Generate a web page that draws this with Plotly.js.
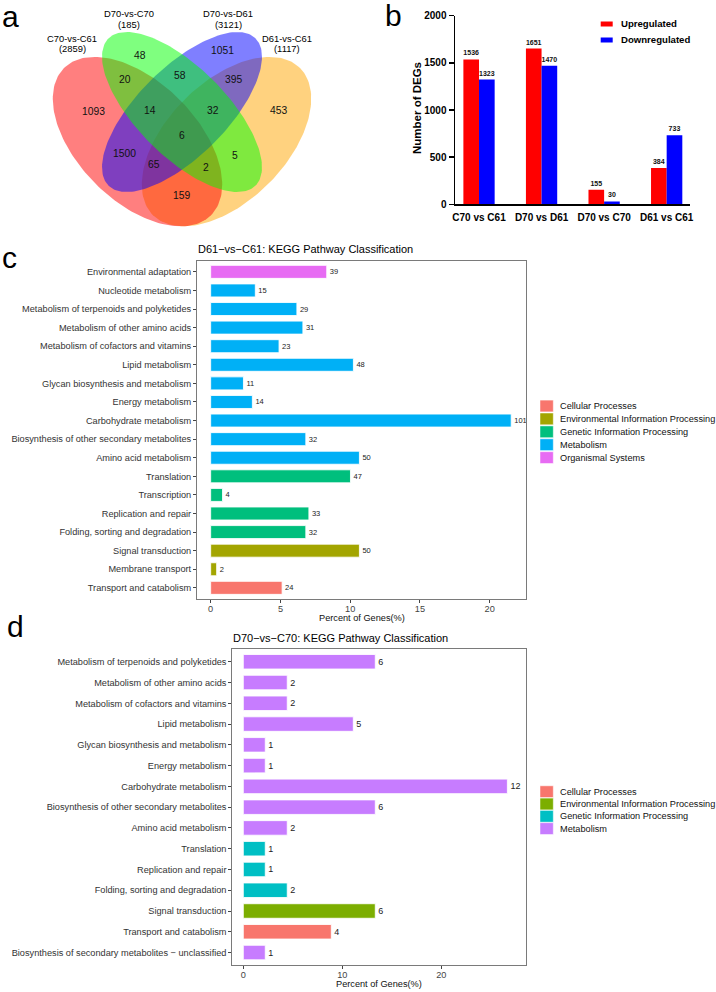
<!DOCTYPE html>
<html>
<head>
<meta charset="utf-8">
<script src="https://cdn.plot.ly/plotly-3.0.1.min.js"></script>
<style>html,body{margin:0;padding:0;background:#fff}</style>
</head>
<body>
<div id="fig" style="width:716px;height:992px"></div>
<script>
// ---- a: venn ----
const vennSets = ['C70-vs-C61', 'D70-vs-C70', 'D70-vs-D61', 'D61-vs-C61'];
const vennTotals = [2859, 185, 3121, 1117];
const vennCounts = [1093, 48, 20, 14, 58, 1051, 395, 32, 453, 6, 1500, 65, 2, 5, 159];

// ---- b: DEG numbers ----
const degGroups = ['C70 vs C61', 'D70 vs D61', 'D70 vs C70', 'D61 vs C61'];
const upReg = [1536, 1651, 155, 384];
const downReg = [1323, 1470, 30, 733];

// ---- c: D61-vs-C61 KEGG ----
const cTerms = ['Environmental adaptation', 'Nucleotide metabolism', 'Metabolism of terpenoids and polyketides',
  'Metabolism of other amino acids', 'Metabolism of cofactors and vitamins', 'Lipid metabolism',
  'Glycan biosynthesis and metabolism', 'Energy metabolism', 'Carbohydrate metabolism',
  'Biosynthesis of other secondary metabolites', 'Amino acid metabolism', 'Translation', 'Transcription',
  'Replication and repair', 'Folding, sorting and degradation', 'Signal transduction', 'Membrane transport',
  'Transport and catabolism'];
const cClass = ['Organismal Systems', 'Metabolism', 'Metabolism', 'Metabolism', 'Metabolism', 'Metabolism',
  'Metabolism', 'Metabolism', 'Metabolism', 'Metabolism', 'Metabolism',
  'Genetic Information Processing', 'Genetic Information Processing', 'Genetic Information Processing',
  'Genetic Information Processing', 'Environmental Information Processing', 'Environmental Information Processing',
  'Cellular Processes'];
const cGenes = [39, 15, 29, 31, 23, 48, 11, 14, 101, 32, 50, 47, 4, 33, 32, 50, 2, 24];
const cPercent = [8.32, 3.20, 6.18, 6.61, 4.90, 10.23, 2.35, 2.99, 21.54, 6.82, 10.66, 10.02, 0.85, 7.04, 6.82, 10.66, 0.43, 5.12];
const cClasses = ['Cellular Processes', 'Environmental Information Processing', 'Genetic Information Processing',
  'Metabolism', 'Organismal Systems'];
const cColors = ['#F8766D', '#A3A500', '#00BF7D', '#00B0F6', '#E76BF3'];

// ---- d: D70-vs-C70 KEGG ----
const dTerms = ['Metabolism of terpenoids and polyketides', 'Metabolism of other amino acids',
  'Metabolism of cofactors and vitamins', 'Lipid metabolism', 'Glycan biosynthesis and metabolism',
  'Energy metabolism', 'Carbohydrate metabolism', 'Biosynthesis of other secondary metabolites',
  'Amino acid metabolism', 'Translation', 'Replication and repair', 'Folding, sorting and degradation',
  'Signal transduction', 'Transport and catabolism', 'Biosynthesis of secondary metabolites \u2212 unclassified'];
const dClass = ['Metabolism', 'Metabolism', 'Metabolism', 'Metabolism', 'Metabolism', 'Metabolism', 'Metabolism',
  'Metabolism', 'Metabolism', 'Genetic Information Processing', 'Genetic Information Processing',
  'Genetic Information Processing', 'Environmental Information Processing', 'Cellular Processes', 'Metabolism'];
const dGenes = [6, 2, 2, 5, 1, 1, 12, 6, 2, 1, 1, 2, 6, 4, 1];
const dPercent = [13.33, 4.44, 4.44, 11.11, 2.22, 2.22, 26.67, 13.33, 4.44, 2.22, 2.22, 4.44, 13.33, 8.89, 2.22];
const dClasses = ['Cellular Processes', 'Environmental Information Processing', 'Genetic Information Processing', 'Metabolism'];
const dColors = ['#F8766D', '#7CAE00', '#00BFC4', '#C77CFF'];

const W = 716, H = 992;
const FONT = 'Liberation Sans, Arial, sans-serif';
function px(x) { return x / W; }
function py(y) { return 1 - y / H; }

let traces = [];
let shapes = [];
let annotations = [];

// text helper, always centred unless told otherwise
function note(o) {
  annotations.push(Object.assign({ xref: 'paper', yref: 'paper', showarrow: false, xanchor: 'center', yanchor: 'middle' }, o));
}

// venn ellipses, pixel space of panel a
const ellipses = [
  { cx: 137.5, cy: 141.6, a: 104, b: 59.5, ang: 45, color: 'rgba(255,0,0,0.5)' },
  { cx: 182, cy: 112, a: 104, b: 44.5, ang: 45, color: 'rgba(0,255,0,0.5)' },
  { cx: 182, cy: 112, a: 104, b: 44.5, ang: -45, color: 'rgba(0,0,255,0.5)' },
  { cx: 226.5, cy: 141.6, a: 104, b: 59.5, ang: -45, color: 'rgba(255,165,0,0.5)' }
];
const drawOrder = [3, 0, 2, 1];
drawOrder.forEach(k => {
  let e = ellipses[k];
  let th = e.ang * Math.PI / 180;
  let xs = [], ys = [];
  for (let i = 0; i <= 180; i++) {
    let t = 2 * Math.PI * i / 180;
    xs.push(e.cx + e.a * Math.cos(t) * Math.cos(th) - e.b * Math.sin(t) * Math.sin(th));
    ys.push(e.cy + e.a * Math.cos(t) * Math.sin(th) + e.b * Math.sin(t) * Math.cos(th));
  }
  traces.push({
    type: 'scatter', mode: 'lines', x: xs, y: ys, fill: 'toself', fillcolor: e.color,
    line: { width: 0 }, hoverinfo: 'skip', xaxis: 'x4', yaxis: 'y4', showlegend: false
  });
});

const vennPos = [[93.3, 111], [140, 55], [125, 79], [150, 110], [180, 75.7], [222.7, 50.7], [233.3, 79],
  [212.7, 110.7], [278.3, 110], [182.3, 135], [124, 153.3], [154.3, 164.3], [205.7, 167.3], [235, 155.7], [181.7, 195.7]];
vennCounts.forEach((v, i) => {
  note({ xref: 'x4', yref: 'y4', x: vennPos[i][0], y: vennPos[i][1], text: String(v),
    font: { family: FONT, size: 10.3, color: '#111' } });
});
const setPos = [[72, 38, 48], [129, 13, 24], [228, 13, 24], [287, 38, 48]];
vennSets.forEach((s, i) => {
  note({ xref: 'x4', yref: 'y4', x: setPos[i][0], y: setPos[i][1], text: s, font: { family: FONT, size: 9.4, color: '#000' } });
  note({ xref: 'x4', yref: 'y4', x: setPos[i][0], y: setPos[i][2], text: '(' + vennTotals[i] + ')',
    font: { family: FONT, size: 9.4, color: '#000' } });
});

// panel b bars
traces.push({
  type: 'bar', x: degGroups, y: upReg, xaxis: 'x', yaxis: 'y', marker: { color: '#FF0000' },
  width: 0.25, offset: -0.25, text: upReg.map(String), textposition: 'outside', constraintext: 'none',
  textfont: { family: FONT, size: 7, weight: 'bold', color: '#111' }, cliponaxis: false, showlegend: false
});
traces.push({
  type: 'bar', x: degGroups, y: downReg, xaxis: 'x', yaxis: 'y', marker: { color: '#0000FF' },
  width: 0.25, offset: 0, text: downReg.map(String), textposition: 'outside', constraintext: 'none',
  textfont: { family: FONT, size: 7, weight: 'bold', color: '#111' }, cliponaxis: false, showlegend: false
});
const legB = [['Upregulated', '#FF0000', 24], ['Downregulated', '#0000FF', 40]];
legB.forEach(l => {
  shapes.push({ type: 'rect', xref: 'paper', yref: 'paper', x0: px(600.7), x1: px(612.7),
    y0: py(l[2] - 2.5), y1: py(l[2] + 2.5), fillcolor: l[1], line: { width: 0 } });
  note({ x: px(619), y: py(l[2]), xanchor: 'left', text: l[0], font: { family: FONT, size: 9.6, weight: 'bold', color: '#000' } });
});
note({ x: px(417.2), y: py(107.8), text: 'Number of DEGs', textangle: -90,
  font: { family: FONT, size: 11.5, weight: 'bold', color: '#000' } });

// panels c and d
function keggPanel(terms, cls, genes, pct, classes, colors, xa, ya, labSize) {
  classes.forEach((c, k) => {
    let idx = [];
    cls.forEach((v, i) => { if (v === c) idx.push(i); });
    traces.push({
      type: 'bar', orientation: 'h', xaxis: xa, yaxis: ya,
      y: idx.map(i => terms[i]), x: idx.map(i => pct[i]), text: idx.map(i => String(genes[i])),
      width: 0.7, offset: -0.35, marker: { color: colors[k], line: { color: 'rgba(255,255,255,0.85)', width: 1 } },
      textposition: 'outside', constraintext: 'none', textangle: 0, cliponaxis: false,
      textfont: { family: FONT, size: labSize, color: '#222' }, showlegend: false
    });
  });
}
keggPanel(cTerms, cClass, cGenes, cPercent, cClasses, cColors, 'x2', 'y2', 7.5);
keggPanel(dTerms, dClass, dGenes, dPercent, dClasses, dColors, 'x3', 'y3', 9);

function keggLegend(classes, colors, y0, step) {
  classes.forEach((c, k) => {
    let yc = y0 + step * k;
    shapes.push({ type: 'rect', xref: 'paper', yref: 'paper', x0: px(540), x1: px(553.3),
      y0: py(yc - 5.9), y1: py(yc + 5.9), fillcolor: colors[k], line: { color: '#fff', width: 0.5 } });
    note({ x: px(557.5), y: py(yc), xanchor: 'left', text: c, font: { family: FONT, size: 9.2, color: '#111' } });
  });
}
keggLegend(cClasses, cColors, 406, 12.9);
keggLegend(dClasses, dColors, 791.7, 12.3);

const titles = [
  ['D61\u2212vs\u2212C61: KEGG Pathway Classification', 195.5, 248.5],
  ['D70\u2212vs\u2212C70: KEGG Pathway Classification', 231, 638.3]
];
titles.forEach(t => note({ x: px(t[1]), y: py(t[2]), xanchor: 'left', text: t[0], font: { family: FONT, size: 11, color: '#000' } }));
[[361.5, 618.3], [378.8, 984.3]].forEach(p => note({ x: px(p[0]), y: py(p[1]),
  text: 'Percent of Genes(%)', font: { family: FONT, size: 9.2, color: '#111' } }));

// panel letters
[['a', 0, 17], ['b', 383, 16], ['c', 0, 257.5], ['d', 5, 626.5]].forEach(l => note({
  x: px(l[1]), y: py(l[2]), xanchor: 'left', text: l[0], font: { family: FONT, size: 30, color: '#000' } }));

const frame = { showline: true, mirror: true, linecolor: '#7a7a7a', linewidth: 1, showgrid: false, zeroline: false,
  ticks: 'outside', ticklen: 3, tickcolor: '#444', automargin: false };

const layout = {
  width: W, height: H, margin: { l: 0, r: 0, t: 0, b: 0 }, paper_bgcolor: '#fff', plot_bgcolor: '#fff',
  showlegend: false, barmode: 'group',
  xaxis: {
    domain: [px(455), px(690)], anchor: 'y', type: 'category', range: [-0.384, 3.373],
    showline: true, linecolor: '#000', linewidth: 1.5, ticks: '', showgrid: false, zeroline: false,
    ticklabelstandoff: 3,
    tickfont: { family: FONT, size: 10, weight: 'bold', color: '#000' }, automargin: false
  },
  yaxis: {
    domain: [py(204.3), py(15.7)], anchor: 'x', range: [0, 2000], tickvals: [0, 500, 1000, 1500, 2000],
    showline: true, linecolor: '#000', linewidth: 1.5, ticks: 'outside', ticklen: 5, tickwidth: 1.5, tickcolor: '#000',
    showgrid: false, zeroline: false, tickfont: { family: FONT, size: 10, weight: 'bold', color: '#000' }, automargin: false
  },
  xaxis2: Object.assign({}, frame, {
    domain: [px(197), px(526)], anchor: 'y2', range: [-0.98, 22.6], tickvals: [0, 5, 10, 15, 20],
    ticklabelstandoff: -2, tickfont: { family: FONT, size: 9.2, color: '#444' }
  }),
  yaxis2: Object.assign({}, frame, {
    domain: [py(599), py(260.7)], anchor: 'x2', type: 'category', categoryorder: 'array', categoryarray: cTerms,
    range: [17.6, -0.6], tickfont: { family: FONT, size: 9.2, color: '#333' }
  }),
  xaxis3: Object.assign({}, frame, {
    domain: [px(232.3), px(525.5)], anchor: 'y3', range: [-1.11, 28.5], tickvals: [0, 10, 20],
    ticklabelstandoff: -2, tickfont: { family: FONT, size: 9.2, color: '#444' }
  }),
  yaxis3: Object.assign({}, frame, {
    domain: [py(965), py(649.3)], anchor: 'x3', type: 'category', categoryorder: 'array', categoryarray: dTerms,
    range: [14.6, -0.6], tickfont: { family: FONT, size: 9.2, color: '#333' }
  }),
  xaxis4: { domain: [0, px(400)], anchor: 'y4', range: [0, 400], visible: false, fixedrange: true },
  yaxis4: { domain: [py(240), 1], anchor: 'x4', range: [240, 0], visible: false, fixedrange: true },
  shapes: shapes,
  annotations: annotations
};

Plotly.newPlot('fig', traces, layout, { displayModeBar: false, staticPlot: true });
</script>
</body>
</html>
